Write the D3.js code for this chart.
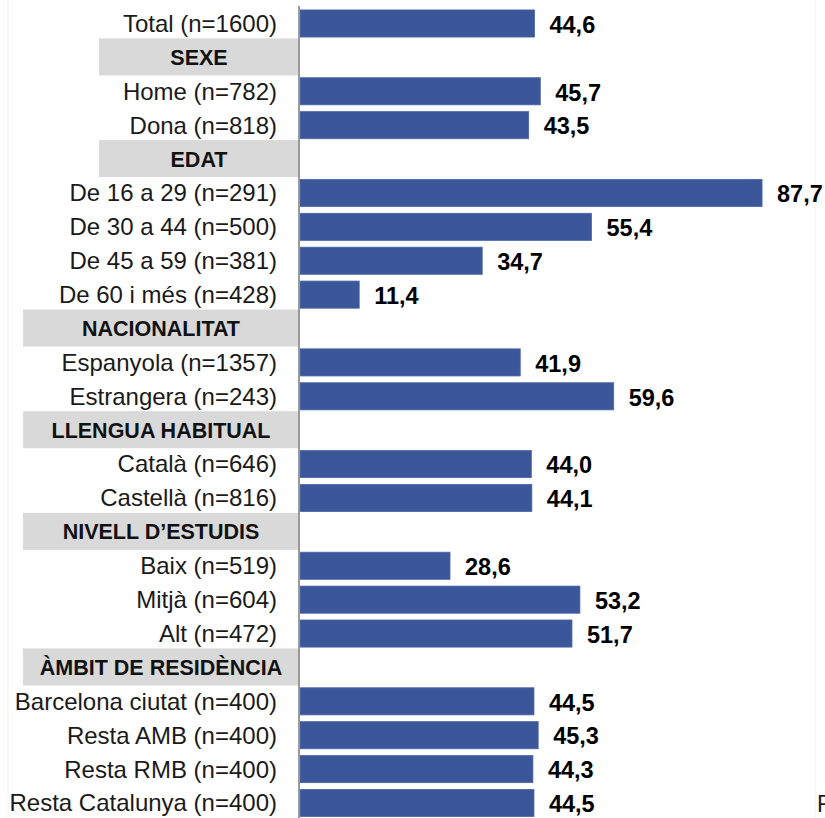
<!DOCTYPE html>
<html>
<head>
<meta charset="utf-8">
<script src="https://cdn.jsdelivr.net/npm/d3@7"></script>
<style>
    body { margin: 0; background: #fff; }
    svg { display: block; font-family: "Liberation Sans", Arial, sans-serif; }
</style>
</head>
<body>
<svg></svg>
<script>
// Données
const categories = [
    "Total (n=1600)",
    "Home (n=782)", "Dona (n=818)",
    "De 16 a 29 (n=291)", "De 30 a 44 (n=500)", "De 45 a 59 (n=381)", "De 60 i més (n=428)",
    "Espanyola (n=1357)", "Estrangera (n=243)",
    "Català (n=646)", "Castellà (n=816)",
    "Baix (n=519)", "Mitjà (n=604)", "Alt (n=472)",
    "Barcelona ciutat (n=400)", "Resta AMB (n=400)", "Resta RMB (n=400)", "Resta Catalunya (n=400)"
];
const values = [
    44.6,
    45.7, 43.5,
    87.7, 55.4, 34.7, 11.4,
    41.9, 59.6,
    44.0, 44.1,
    28.6, 53.2, 51.7,
    44.5, 45.3, 44.3, 44.5
];
const groups = ["SEXE", "EDAT", "NACIONALITAT", "LLENGUA HABITUAL", "NIVELL D’ESTUDIS", "ÀMBIT DE RESIDÈNCIA"];
// index de la première catégorie de chaque groupe
const groupStart = [1, 3, 7, 9, 11, 14];

// Construire la liste des lignes (en-têtes + catégories)
const rows = [];
categories.forEach((c, i) => {
    const g = groupStart.indexOf(i);
    if (g >= 0) rows.push({ id: "h" + g, type: "header", name: groups[g], g: g });
    rows.push({ id: "c" + i, type: "bar", name: c, value: values[i] });
});

const width = 825, height = 818;
const axisX = 299;

const svg = d3.select("svg")
    .attr("width", width)
    .attr("height", height);

const x = d3.scaleLinear()
    .domain([0, 100])
    .range([axisX, axisX + 528]);

const y = d3.scaleBand()
    .domain(rows.map(d => d.id))
    .range([6.55, 819.95])
    .paddingInner(0.2)
    .paddingOuter(0.1);

const fmt = d3.formatLocale({ decimal: ",", thousands: ".", grouping: [3], currency: ["", "€"] }).format(".1f");

// lignes de bord très pâles
svg.append("line")
    .attr("x1", 8).attr("x2", 8).attr("y1", 0).attr("y2", height)
    .attr("stroke", "#f2f2f2");
svg.append("line")
    .attr("x1", 815).attr("x2", 815).attr("y1", 0).attr("y2", height)
    .attr("stroke", "#f2f2f2");

const center = d => y(d.id) + y.bandwidth() / 2;

// En-têtes de groupes
const headers = rows.filter(d => d.type === "header");
const hg = svg.selectAll(".header")
    .data(headers)
    .enter()
    .append("g")
    .attr("class", "header");

hg.append("rect")
    .attr("x", d => d.g < 2 ? 99 : 23)
    .attr("y", d => center(d) - 19)
    .attr("width", d => axisX - (d.g < 2 ? 99 : 23))
    .attr("height", 37)
    .attr("fill", "#d9d9d9");

hg.append("text")
    .attr("x", d => ((d.g < 2 ? 99 : 23) + axisX) / 2)
    .attr("y", d => center(d))
    .attr("dy", "0.35em")
    .attr("text-anchor", "middle")
    .attr("font-size", "21.5px")
    .attr("font-weight", "bold")
    .attr("fill", "#111")
    .text(d => d.name);

// Barres
const bars = rows.filter(d => d.type === "bar");

svg.selectAll(".bar")
    .data(bars)
    .enter()
    .append("rect")
    .attr("class", "bar")
    .attr("x", x(0) + 1)
    .attr("y", d => y(d.id))
    .attr("width", d => x(d.value) - x(0) - 1)
    .attr("height", y.bandwidth())
    .attr("fill", "#3b5799")
    .attr("stroke", "#4a66a6")
    .attr("stroke-width", 0.8);

// Étiquettes des catégories
svg.selectAll(".label")
    .data(bars)
    .enter()
    .append("text")
    .attr("class", "label")
    .attr("x", 277)
    .attr("y", d => center(d))
    .attr("dy", "0.35em")
    .attr("text-anchor", "end")
    .attr("font-size", "24px")
    .attr("fill", "#1a1a1a")
    .text(d => d.name);

// Valeurs
svg.selectAll(".value")
    .data(bars)
    .enter()
    .append("text")
    .attr("class", "value")
    .attr("x", d => x(d.value) + 15)
    .attr("y", d => center(d) + 1)
    .attr("dy", "0.35em")
    .attr("font-size", "23.5px")
    .attr("font-weight", "bold")
    .attr("fill", "#000")
    .text(d => fmt(d.value));

// Axe vertical
svg.append("line")
    .attr("x1", axisX).attr("x2", axisX)
    .attr("y1", 6).attr("y2", height)
    .attr("stroke", "#9a9a9a")
    .attr("stroke-width", 2);

// texte coupé en bas à droite (source)
svg.append("text")
    .attr("x", 817)
    .attr("y", 812)
    .attr("font-size", "23px")
    .attr("fill", "#1a1a1a")
    .text("F");
</script>
</body>
</html>
